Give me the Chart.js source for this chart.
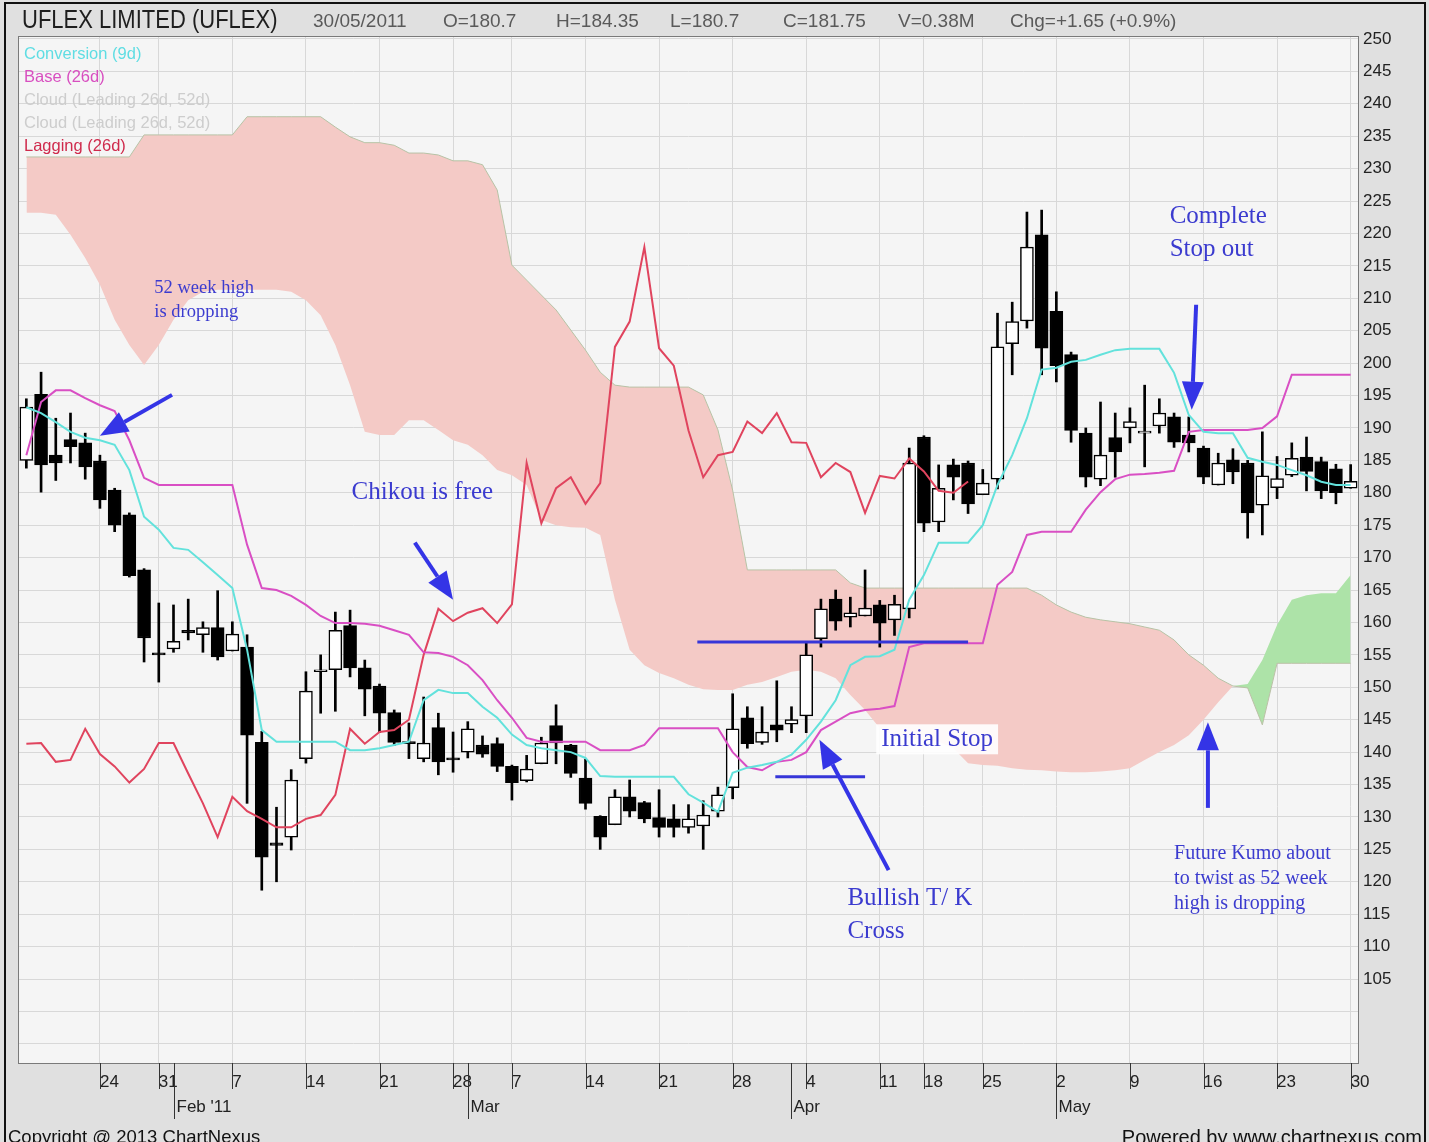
<!DOCTYPE html>
<html>
<head>
<meta charset="utf-8">
<title>UFLEX Ichimoku</title>
<script src="https://cdn.jsdelivr.net/npm/chart.js@4.4.1/dist/chart.umd.min.js"></script>
<style>
  html, body { margin: 0; padding: 0; background: #e0e0e0; }
  #wrap { position: relative; width: 1429px; height: 1142px; }
</style>
</head>
<body>
<div id="wrap"><canvas id="ichimoku" width="1429" height="1142"></canvas></div>
<script>
// trading days, Jan 17 - May 30 2011 (NSE holidays left out)
const janDays = [17, 18, 19, 20, 21, 24, 25, 27, 28, 31];
const febDays = [1, 2, 3, 4, 7, 8, 9, 10, 11, 14, 15, 16, 17, 18, 21, 22, 23, 24, 25, 28];
const marDays = [1, 3, 4, 7, 8, 9, 10, 11, 14, 15, 16, 17, 18, 21, 22, 23, 24, 25, 28, 29, 30, 31];
const aprDays = [1, 4, 5, 6, 7, 8, 11, 13, 15, 18, 19, 20, 21, 25, 26, 27, 28, 29];
const mayDays = [2, 3, 4, 5, 6, 9, 10, 11, 12, 13, 16, 17, 18, 19, 20, 23, 24, 25, 26, 27, 30];
const monthNames = ['Jan', 'Feb', 'Mar', 'Apr', 'May'];
const monthLabels = ["Feb '11", 'Mar', 'Apr', 'May'];

const opens = [185.0, 195.2, 185.8, 188.2, 187.7, 184.9, 180.4, 176.6, 168.1, 155.3,
  155.9, 158.8, 158.1, 159.2, 155.6, 156.2, 141.5, 126.0, 126.9, 139.0,
  152.4, 152.7, 159.5, 153.0, 150.2, 146.1, 141.6, 139.0, 143.8, 139.1,
  140.0, 141.1, 141.3, 137.8, 135.6, 138.2, 144.1, 141.1, 136.0, 130.1,
  128.8, 133.1, 132.2, 129.9, 129.7, 128.4, 128.6, 130.9, 134.5, 145.3,
  141.5, 144.2, 144.3, 145.6, 157.5, 163.6, 160.8, 161.0, 162.7, 160.4,
  162.1, 188.6, 175.5, 184.3, 184.6, 179.7, 182.1, 203.0, 206.5, 219.8,
  208.0, 201.3, 189.2, 182.1, 188.5, 190.0, 189.2, 190.3, 191.7, 188.9,
  186.9, 181.2, 185.1, 184.6, 178.1, 180.8, 182.7, 185.5, 184.8, 183.7,
  180.7];
const highs = [194.5, 198.6, 191.5, 192.3, 189.2, 185.8, 180.7, 176.9, 168.3, 163.0,
  162.7, 163.6, 160.1, 164.9, 160.1, 158.1, 143.2, 131.5, 137.3, 152.4,
  155.0, 161.6, 161.9, 154.2, 150.5, 146.5, 144.5, 148.5, 146.0, 143.1,
  144.7, 142.5, 142.2, 138.0, 139.5, 142.3, 147.3, 141.2, 138.9, 130.2,
  134.2, 135.7, 132.4, 134.2, 131.9, 131.9, 132.5, 134.6, 149.0, 147.0,
  147.0, 151.0, 147.0, 156.8, 163.6, 165.0, 163.9, 168.1, 163.4, 164.2,
  186.9, 188.8, 184.3, 185.2, 184.9, 183.6, 207.7, 209.4, 223.3, 223.6,
  211.0, 201.7, 190.0, 194.0, 192.3, 193.1, 196.6, 194.5, 192.3, 191.7,
  187.2, 186.1, 186.8, 185.0, 189.4, 185.6, 187.7, 188.6, 185.5, 184.4,
  184.35];
const lows = [183.8, 180.1, 181.9, 184.6, 182.1, 177.6, 174.0, 167.0, 153.9, 150.8,
  155.4, 157.3, 155.4, 154.2, 155.6, 132.1, 118.7, 120.0, 124.9, 138.3,
  146.0, 146.3, 151.6, 145.6, 143.0, 141.0, 139.0, 138.5, 136.5, 136.9,
  139.1, 139.2, 137.0, 132.6, 135.4, 138.2, 138.2, 136.1, 131.2, 125.0,
  128.8, 130.0, 129.1, 126.9, 126.9, 127.5, 125.0, 130.0, 132.8, 140.6,
  141.2, 141.6, 143.0, 143.0, 156.2, 158.8, 159.3, 161.0, 156.2, 158.0,
  160.7, 174.0, 174.0, 178.9, 176.8, 179.7, 180.6, 198.2, 205.4, 198.2,
  197.1, 187.8, 180.9, 181.1, 182.4, 187.7, 184.0, 189.2, 187.0, 186.3,
  181.4, 181.2, 181.4, 173.0, 173.5, 179.1, 182.5, 180.3, 179.1, 178.3,
  180.7];
const closes = [193.2, 184.3, 184.6, 187.1, 184.0, 178.9, 175.0, 167.2, 157.6, 155.0,
  157.1, 158.4, 159.2, 154.7, 158.2, 142.6, 123.8, 125.6, 135.7, 149.4,
  152.6, 158.8, 153.0, 149.7, 146.0, 141.5, 141.3, 141.4, 138.5, 138.8,
  143.6, 139.7, 137.8, 135.3, 137.4, 141.4, 141.4, 136.7, 132.1, 126.9,
  133.1, 130.9, 129.7, 128.4, 128.4, 129.7, 130.3, 133.4, 143.6, 141.3,
  143.1, 143.4, 145.0, 155.0, 162.1, 160.2, 161.5, 162.2, 159.9, 162.8,
  184.6, 175.3, 180.7, 182.4, 178.3, 181.5, 202.5, 206.4, 217.9, 202.3,
  199.6, 189.6, 182.4, 185.8, 186.3, 191.0, 189.2, 192.3, 187.8, 187.7,
  182.4, 184.6, 183.2, 176.9, 182.6, 182.2, 185.3, 183.3, 180.3, 180.0,
  181.75];

// Tenkan (9d)
const conversion = [193.2, 192.3, 190.9, 189.4, 188.5, 188.1, 187.4, 183.5, 176.3, 174.3,
  171.5, 171.2, 169.3, 167.3, 165.3, 155.8, 143.4, 141.6, 141.6, 141.6,
  141.6, 141.6, 140.3, 140.3, 140.6, 141.1, 141.6, 148.0, 149.6, 149.1,
  149.1, 147.0, 145.3, 142.7, 141.1, 140.6, 140.3, 140.0, 139.1, 136.3,
  136.2, 136.2, 136.2, 136.2, 136.2, 133.5, 132.2, 130.8, 136.8, 137.6,
  138.0, 138.5, 139.6, 141.9, 144.7, 148.0, 153.4, 154.7, 154.8, 155.8,
  163.5, 167.3, 172.3, 172.3, 172.3, 175.0, 181.2, 185.8, 191.5, 199.0,
  199.3, 200.2, 200.5, 201.3, 202.0, 202.2, 202.2, 202.2, 198.5, 192.0,
  189.4, 189.2, 189.2, 185.4, 184.8, 184.3, 183.5, 182.7, 181.7, 181.2,
  181.2];
// Kijun (26d)
const base = [185.8, 194.0, 195.8, 195.8, 194.6, 193.5, 192.6, 188.1, 182.3, 181.2,
  181.2, 181.2, 181.2, 181.2, 181.2, 172.0, 165.3, 165.0, 164.1, 162.7,
  161.0, 159.9, 159.9, 159.8, 159.5, 158.8, 158.1, 155.4, 155.3, 154.7,
  153.4, 151.1, 148.0, 145.3, 142.2, 141.6, 141.6, 141.6, 141.6, 140.3,
  140.3, 140.3, 141.1, 143.7, 143.7, 143.7, 143.7, 143.7, 140.0, 137.7,
  137.2, 138.5, 138.8, 140.0, 143.4, 144.7, 146.0, 146.5, 146.7, 147.1,
  156.2, 156.8, 156.8, 156.8, 156.8, 156.8, 165.8, 167.8, 173.5, 174.0,
  174.0, 174.0, 177.4, 180.1, 182.1, 182.8, 182.9, 183.1, 183.4, 189.4,
  189.7, 189.7, 189.7, 189.7, 190.0, 191.8, 198.2, 198.2, 198.2, 198.2,
  198.2];
// Chikou, plotted 26 days back
const lagging = [141.3, 141.4, 138.5, 138.8, 143.6, 139.7, 137.8, 135.3, 137.4, 141.4,
  141.4, 136.7, 132.1, 126.9, 133.1, 130.9, 129.7, 128.4, 128.4, 129.7,
  130.3, 133.4, 143.6, 141.3, 143.1, 143.4, 145.0, 155.0, 162.1, 160.2,
  161.5, 162.2, 159.9, 162.8, 184.6, 175.3, 180.7, 182.4, 178.3, 181.5,
  202.5, 206.4, 217.9, 202.3, 199.6, 189.6, 182.4, 185.8, 186.3, 191.0,
  189.2, 192.3, 187.8, 187.7, 182.4, 184.6, 183.2, 176.9, 182.6, 182.2,
  185.3, 183.3, 180.3, 180.0, 181.75];
// Senkou A / B (cloud edges)
const spanA = [223.2, 223.2, 222.9, 219.8, 216.2, 212.1, 206.7, 202.8, 199.7, 202.8,
  206.7, 209.7, 211.0, 211.3, 211.3, 211.3, 211.3, 211.3, 211.0, 209.7,
  207.4, 202.8, 196.6, 189.4, 188.9, 188.9, 191.2, 191.2, 189.7, 188.1,
  187.4, 185.8, 183.5, 182.7, 181.2, 175.8, 175.0, 174.7, 174.6, 173.5,
  163.5, 155.8, 153.4, 152.2, 151.4, 150.4, 149.7, 149.6, 149.6, 150.4,
  150.8, 151.6, 152.4, 152.7, 152.4, 151.4, 148.8, 146.5, 143.7, 142.6,
  142.2, 141.9, 141.6, 140.6, 138.3, 138.0, 137.9, 137.5, 137.3, 137.2,
  137.0, 136.9, 136.9, 137.0, 137.2, 137.5, 138.8, 140.0, 141.1, 142.6,
  145.0, 147.7, 150.2, 150.5, 154.2, 159.6, 163.5, 164.2, 164.5, 164.5,
  167.3];
const spanB = [231.8, 231.8, 231.8, 231.8, 231.8, 231.8, 231.8, 231.8, 235.2, 235.2,
  235.2, 235.2, 235.2, 235.2, 235.2, 238.0, 238.0, 238.0, 238.0, 238.0,
  238.0, 236.4, 234.9, 234.0, 234.0, 233.6, 232.4, 232.4, 232.1, 231.2,
  231.2, 230.6, 226.7, 215.1, 212.8, 210.5, 208.2, 205.1, 202.0, 198.6,
  196.6, 196.3, 196.3, 196.3, 196.3, 196.3, 195.1, 189.7, 180.4, 168.1,
  168.1, 168.1, 168.1, 168.1, 168.1, 168.1, 166.1, 165.3, 165.3, 165.3,
  165.3, 165.3, 165.3, 165.3, 165.3, 165.3, 165.3, 165.3, 165.3, 164.2,
  162.7, 161.6, 160.8, 160.4, 160.1, 159.8, 159.3, 158.8, 157.3, 155.0,
  153.4, 151.4, 150.2, 149.9, 144.2, 153.7, 153.7, 153.7, 153.7, 153.7,
  153.7];

const gridValues = [95, 100, 105, 110, 115, 120, 125, 130, 135, 140, 145, 150, 155, 160, 165,
  170, 175, 180, 185, 190, 195, 200, 205, 210, 215, 220, 225, 230, 235, 240, 245, 250];

const title = 'UFLEX LIMITED (UFLEX)';
const headerFields = ['30/05/2011', 'O=180.7', 'H=184.35', 'L=180.7', 'C=181.75', 'V=0.38M', 'Chg=+1.65 (+0.9%)'];
const headerX = [313, 443, 556, 670, 783, 898, 1010];
const legendItems = [
  ['Conversion (9d)', '#5fdde3'],
  ['Base (26d)', '#d84fc0'],
  ['Cloud (Leading 26d, 52d)', '#cdcdcd'],
  ['Cloud (Leading 26d, 52d)', '#cdcdcd'],
  ['Lagging (26d)', '#cf2a4c']
];

// hand-drawn notes, in (day index, price) units
const notes = [
  { text: ['52 week high', 'is dropping'], at: [8.7, 211.6], size: 18.5, gap: 24 },
  { text: ['Chikou is free'], at: [22.1, 180.1], size: 25, gap: 0 },
  { text: ['Complete', 'Stop out'], at: [77.7, 222.7], size: 25, gap: 33 },
  { text: ['Initial Stop'], at: [58.1, 141.9], size: 25, gap: 0, box: true },
  { text: ['Bullish T/ K', 'Cross'], at: [55.8, 117.5], size: 25, gap: 33 },
  { text: ['Future Kumo about', 'to twist as 52 week', 'high is dropping'], at: [78.0, 124.3], size: 20, gap: 25 }
];
const arrows = [
  { from: [9.9, 195.1], to: [5.0, 188.8] },
  { from: [26.4, 172.3], to: [29.0, 163.5] },
  { from: [58.6, 121.8], to: [53.9, 141.9] },
  { from: [79.5, 209.0], to: [79.2, 192.8] },
  { from: [80.3, 131.4], to: [80.3, 144.6] }
];
const stopLines = [
  { from: 45.6, to: 64.0, v: 157.0 },
  { from: 50.9, to: 57.0, v: 136.2 }
];

// ---- derived bits for the library ----
const categories = [], dayNum = [], monthIdx = [];
[janDays, febDays, marDays, aprDays, mayDays].forEach((days, m) => {
  days.forEach(d => { categories.push(d + ' ' + monthNames[m]); dayNum.push(d); monthIdx.push(m); });
});
const weekday = i => new Date(2011, monthIdx[i], dayNum[i]).getDay();
const isWeekStart = i => i > 0 && weekday(i) <= weekday(i - 1);
const isMonthStart = i => i > 0 && monthIdx[i] !== monthIdx[i - 1];

const wicks = lows.map((l, i) => [l, highs[i]]);
const bodies = opens.map((o, i) => [o, closes[i]]);
const bodyColors = opens.map((o, i) => closes[i] >= o ? '#ffffff' : '#000000');

const SANS = "'Liberation Sans', Arial, sans-serif";
const SERIF = "'Liberation Serif', 'Times New Roman', serif";
const NOTE_BLUE = '#3b3bcf';
const ARROW_BLUE = '#3434e6';

const chrome = {
  id: 'chrome',
  beforeDraw(chart) {
    const { ctx, chartArea: a, width, height } = chart;
    ctx.save();
    ctx.fillStyle = '#e0e0e0';
    ctx.fillRect(0, 0, width, height);
    ctx.fillStyle = '#f5f5f5';
    ctx.fillRect(a.left, a.top, a.right - a.left, a.bottom - a.top);
    ctx.restore();
  },
  afterDraw(chart) {
    const { ctx, chartArea: a, scales: { x } } = chart;
    ctx.save();
    // plot frame + outer frame
    ctx.strokeStyle = '#7a7a7a';
    ctx.lineWidth = 1;
    ctx.strokeRect(a.left - 0.5, a.top - 0.5, a.right - a.left + 1, a.bottom - a.top + 1);
    ctx.strokeStyle = '#111';
    ctx.lineWidth = 2;
    ctx.strokeRect(5, 3, 1420, 1150);

    // header
    ctx.textBaseline = 'middle';
    ctx.fillStyle = '#1e1e1e';
    ctx.font = '25px ' + SANS;
    ctx.save();
    ctx.translate(22, 21);
    ctx.scale(0.88, 1);
    ctx.fillText(title, 0, 0);
    ctx.restore();
    ctx.fillStyle = '#5a5a5a';
    ctx.font = '19px ' + SANS;
    headerFields.forEach((t, k) => ctx.fillText(t, headerX[k], 22));

    // legend inside plot
    ctx.font = '16.5px ' + SANS;
    legendItems.forEach(([t, c], k) => {
      ctx.fillStyle = c;
      ctx.fillText(t, a.left + 5, a.top + 17 + k * 23);
    });

    // week / month tick marks below the axis
    ctx.strokeStyle = '#333';
    ctx.lineWidth = 1;
    ctx.fillStyle = '#222';
    ctx.font = '17px ' + SANS;
    let mk = 0;
    categories.forEach((c, i) => {
      const px = Math.round(x.getPixelForValue(i)) + 0.5;
      if (isWeekStart(i)) {
        ctx.beginPath(); ctx.moveTo(px, a.bottom); ctx.lineTo(px, a.bottom + 26); ctx.stroke();
      }
      if (isMonthStart(i)) {
        ctx.beginPath(); ctx.moveTo(px, a.bottom); ctx.lineTo(px, a.bottom + 56); ctx.stroke();
        ctx.fillText(monthLabels[mk++], px + 2, a.bottom + 44);
      }
    });

    // footer
    ctx.fillStyle = '#111';
    ctx.font = '18.5px ' + SANS;
    ctx.fillText('Copyright @ 2013 ChartNexus', 8, 1138);
    ctx.textAlign = 'right';
    ctx.font = '20px ' + SANS;
    ctx.fillText('Powered by www.chartnexus.com', 1422, 1138);
    ctx.restore();
  }
};

const annotate = {
  id: 'annotate',
  afterDatasetsDraw(chart) {
    const { ctx, scales: { x, y } } = chart;
    const P = (i, v) => [x.getPixelForValue(i), y.getPixelForValue(v)];
    ctx.save();
    // stop levels
    ctx.strokeStyle = '#3636d8';
    ctx.lineWidth = 3;
    stopLines.forEach(s => {
      const [x0, y0] = P(s.from, s.v);
      const [x1] = P(s.to, s.v);
      ctx.beginPath(); ctx.moveTo(x0, y0); ctx.lineTo(x1, y0); ctx.stroke();
    });
    // arrows
    arrows.forEach(ar => {
      const [x0, y0] = P(ar.from[0], ar.from[1]);
      const [x1, y1] = P(ar.to[0], ar.to[1]);
      const ang = Math.atan2(y1 - y0, x1 - x0);
      const head = 28, half = 11;
      const bx = x1 - Math.cos(ang) * head, by = y1 - Math.sin(ang) * head;
      ctx.strokeStyle = ARROW_BLUE;
      ctx.fillStyle = ARROW_BLUE;
      ctx.lineWidth = 4;
      ctx.beginPath(); ctx.moveTo(x0, y0); ctx.lineTo(bx, by); ctx.stroke();
      ctx.beginPath();
      ctx.moveTo(x1, y1);
      ctx.lineTo(bx + Math.sin(ang) * half, by - Math.cos(ang) * half);
      ctx.lineTo(bx - Math.sin(ang) * half, by + Math.cos(ang) * half);
      ctx.closePath(); ctx.fill();
    });
    // text notes
    ctx.textBaseline = 'middle';
    notes.forEach(n => {
      const [tx, ty] = P(n.at[0], n.at[1]);
      ctx.font = n.size + 'px ' + SERIF;
      if (n.box) {
        const w = Math.max(...n.text.map(t => ctx.measureText(t).width));
        ctx.fillStyle = 'rgba(255,255,255,0.9)';
        ctx.fillRect(tx - 5, ty - n.size * 0.62, w + 10, n.size * 1.2);
      }
      ctx.fillStyle = NOTE_BLUE;
      n.text.forEach((t, k) => ctx.fillText(t, tx, ty + k * n.gap));
    });
    ctx.restore();
  }
};

new Chart(document.getElementById('ichimoku'), {
  type: 'bar',
  data: {
    labels: categories,
    datasets: [
      { type: 'line', label: 'Leading A', data: spanA, borderColor: 'rgba(0,0,0,0)', borderWidth: 0,
        pointRadius: 0, tension: 0, order: 10,
        fill: { target: 1, above: '#ade3a8', below: '#f4cac6' } },
      { type: 'line', label: 'Leading B', data: spanB, borderColor: '#b9c2a6', borderWidth: 1,
        pointRadius: 0, tension: 0, fill: false, order: 9 },
      { label: 'Wick', data: wicks, backgroundColor: '#000', barThickness: 2, grouped: false, order: 6 },
      { label: 'Body', data: bodies, backgroundColor: bodyColors, borderColor: '#000', borderWidth: 1.5,
        borderSkipped: false, barThickness: 13, minBarLength: 2, grouped: false, order: 5 },
      { type: 'line', label: 'Lagging (26d)', data: lagging, borderColor: '#e0445e', borderWidth: 2,
        pointRadius: 0, tension: 0, fill: false, order: 3 },
      { type: 'line', label: 'Base (26d)', data: base, borderColor: '#d94fc4', borderWidth: 2,
        pointRadius: 0, tension: 0, fill: false, order: 2 },
      { type: 'line', label: 'Conversion (9d)', data: conversion, borderColor: '#63e2dc', borderWidth: 2,
        pointRadius: 0, tension: 0, fill: false, order: 1 }
    ]
  },
  options: {
    responsive: false,
    animation: false,
    devicePixelRatio: 1,
    events: [],
    layout: { padding: { left: 19, top: 37, right: 0, bottom: 0 } },
    plugins: { legend: { display: false }, tooltip: { enabled: false } },
    scales: {
      x: {
        type: 'category',
        offset: true,
        border: { display: false },
        grid: {
          offset: false,
          drawTicks: false,
          color: c => isWeekStart(c.index) ? '#d8d8d8' : 'rgba(0,0,0,0)'
        },
        ticks: {
          autoSkip: false, maxRotation: 0, minRotation: 0, align: 'start', padding: 9,
          color: '#222', font: { family: SANS, size: 17 },
          callback: (v, i) => isWeekStart(i) ? String(dayNum[i]) : ''
        },
        afterFit: s => { s.height = 79; }
      },
      y: {
        position: 'right',
        min: 92.05,
        max: 250.3,
        border: { display: false },
        afterBuildTicks: s => { s.ticks = gridValues.map(v => ({ value: v })); },
        grid: { color: '#d8d8d8', drawTicks: false },
        ticks: {
          padding: 5, color: '#222', font: { family: SANS, size: 17 },
          callback: v => v >= 105 ? String(v) : ''
        },
        afterFit: s => { s.width = 71; }
      }
    }
  },
  plugins: [chrome, annotate]
});
</script>
</body>
</html>
